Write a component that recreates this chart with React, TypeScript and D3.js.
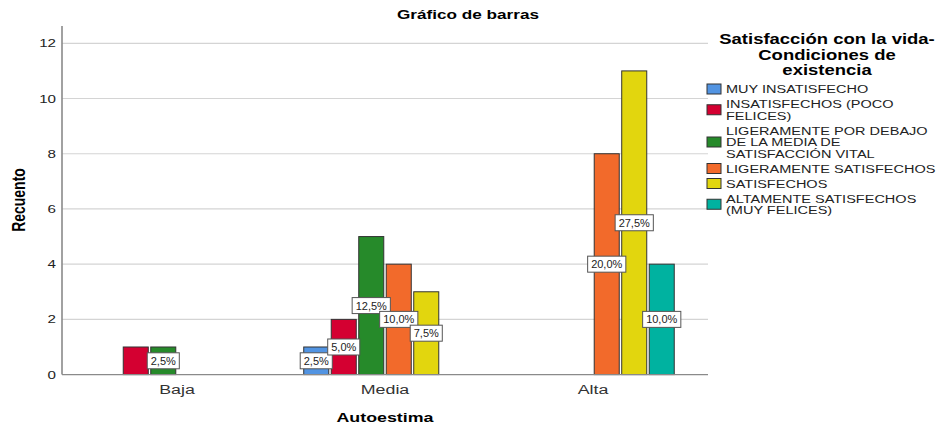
import React from "react";
import * as d3 from "d3";

const categories = ["Baja", "Media", "Alta"];
const seriesNames = [
  "MUY INSATISFECHO",
  "INSATISFECHOS (POCO\nFELICES)",
  "LIGERAMENTE POR DEBAJO\nDE LA MEDIA DE\nSATISFACCIÓN VITAL",
  "LIGERAMENTE SATISFECHOS",
  "SATISFECHOS",
  "ALTAMENTE SATISFECHOS\n(MUY FELICES)",
];
const seriesColors = ["#5294E2", "#D40031", "#268A2A", "#F26A2B", "#E2D60E", "#00B2A0"];
// counts[category][series]
const countsBaja = [0, 1, 1, 0, 0, 0];
const countsMedia = [1, 2, 5, 4, 3, 0];
const countsAlta = [0, 0, 0, 8, 11, 4];
const counts = [countsBaja, countsMedia, countsAlta];
// labels hidden by overlap in the original: [categoryIndex, seriesIndex]
const hiddenLabels = [[0, 1]];
const yTicks = [0, 2, 4, 6, 8, 10, 12];

const chartTitle = "Gráfico de barras";
const yTitle = "Recuento";
const xTitle = "Autoestima";
const legendTitle = ["Satisfacción con la vida-", "Condiciones de", "existencia"];

const W = 937;
const H = 428;
const SX = 1.32;
const FONT = "'Liberation Sans', Arial, sans-serif";

const M = { left: 62, right: 708, top: 26, bottom: 374.6 };

function measure(text: string, font: string) {
  const c = document.createElement("canvas");
  const ctx = c.getContext("2d")!;
  ctx.font = font;
  return ctx.measureText(text).width;
}

function T(props: any) {
  const { x, y, size, weight, anchor, fill, rotate, children } = props;
  return (
    <text
      transform={`translate(${x},${y}) scale(${SX},1)${rotate ? ` rotate(${rotate})` : ""}`}
      fontSize={size}
      fontWeight={weight || "normal"}
      textAnchor={anchor || "start"}
      fill={fill || "#000"}
      fontFamily={FONT}
    >
      {children}
    </text>
  );
}

export default function App() {
  const total = d3.sum(counts.flat());
  const y = d3.scaleLinear().domain([0, 12]).range([M.bottom, 43.3]);
  const x = d3.scalePoint<string>().domain(categories).range([M.left, M.right]).padding(0.553);
  const inner = d3
    .scaleBand<number>()
    .domain(d3.range(seriesNames.length))
    .range([-82.5, 82.5])
    .paddingInner(0.09)
    .paddingOuter(0.045);
  const bw = inner.bandwidth();

  const isHidden = (ci: number, si: number) => hiddenLabels.some(([a, b]) => a === ci && b === si);

  // legend layout
  const lineH = 11.5;
  const itemGap = 15;
  let cy = 89;
  const legendItems = seriesNames.map((name, i) => {
    const lines = name.split("\n");
    const ys = lines.map((_, k) => cy + k * lineH);
    cy = ys[ys.length - 1] + itemGap;
    return { lines, ys, color: seriesColors[i], mid: (ys[0] + ys[ys.length - 1]) / 2 };
  });

  const labelFont = `11px ${FONT}`;

  return (
    <svg width={W} height={H} style={{ display: "block", position: "absolute", left: 0, top: 0, background: "#fff" }}>
      <rect x={0} y={0} width={W} height={H} fill="#fff" />
      {/* gridlines */}
      {yTicks.filter((t) => t > 0).map((t) => (
        <line key={t} x1={M.left} x2={M.right} y1={y(t)} y2={y(t)} stroke="#d4d4d4" strokeWidth={1.2} />
      ))}
      {/* y tick labels */}
      {yTicks.map((t) => (
        <T key={t} x={56} y={y(t) + 4} size={11.5} anchor="end" fill="#222">
          {t}
        </T>
      ))}
      {/* bars */}
      {counts.map((row, ci) =>
        row.map((v, si) =>
          v > 0 ? (
            <rect
              key={`${ci}-${si}`}
              x={x(categories[ci])! + inner(si)!}
              y={y(v)}
              width={bw}
              height={y(0) - y(v)}
              fill={seriesColors[si]}
              stroke="#333"
              strokeWidth={1}
            />
          ) : null
        )
      )}
      {/* axes */}
      <line x1={M.left} x2={M.left} y1={M.top} y2={M.bottom} stroke="#8a8a8a" strokeWidth={1.6} />
      <line x1={M.left} x2={M.right} y1={M.bottom} y2={M.bottom} stroke="#8a8a8a" strokeWidth={1.4} />
      {/* data labels */}
      {counts.map((row, ci) =>
        row.map((v, si) => {
          if (v <= 0 || isHidden(ci, si)) return null;
          const txt = d3.format(".1f")((v / total) * 100).replace(".", ",") + "%";
          const tw = measure(txt, labelFont);
          const cx = x(categories[ci])! + inner(si)! + bw / 2;
          const my = y(v / 2);
          const bwid = tw + 7;
          return (
            <g key={`l${ci}-${si}`}>
              <rect x={cx - bwid / 2} y={my - 8} width={bwid} height={16} fill="#fff" stroke="#555" strokeWidth={1} />
              <text x={cx} y={my + 4} fontSize={11} textAnchor="middle" fontFamily={FONT} fill="#222">
                {txt}
              </text>
            </g>
          );
        })
      )}
      {/* x tick labels */}
      {categories.map((c) => (
        <T key={c} x={x(c)} y={394} size={13.5} anchor="middle" fill="#333">
          {c}
        </T>
      ))}
      {/* titles */}
      <T x={468} y={19} size={13} weight="bold" anchor="middle">
        {chartTitle}
      </T>
      <T x={385} y={422} size={13.5} weight="bold" anchor="middle">
        {xTitle}
      </T>
      <T x={25} y={200} size={14} weight="bold" anchor="middle" rotate={-90}>
        {yTitle}
      </T>
      {/* legend */}
      {legendTitle.map((l, i) => (
        <T key={l} x={827} y={44 + i * 15.6} size={14} weight="bold" anchor="middle">
          {l}
        </T>
      ))}
      {legendItems.map((it, i) => (
        <g key={i}>
          <rect x={707} y={it.mid - 5} width={14} height={10} fill={it.color} stroke="#333" strokeWidth={1} />
          {it.lines.map((ln, k) => (
            <T key={k} x={726} y={it.ys[k] + 4} size={11} fill="#222">
              {ln}
            </T>
          ))}
        </g>
      ))}
    </svg>
  );
}
